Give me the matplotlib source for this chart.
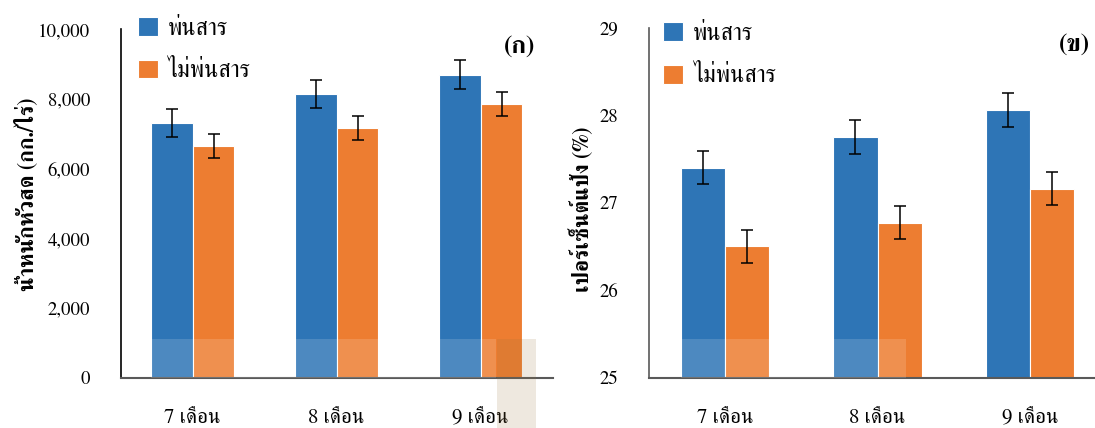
import matplotlib
matplotlib.use("Agg")
import numpy as np
import matplotlib.pyplot as plt
from matplotlib.patches import Rectangle

plt.rcParams['font.family'] = ['FreeSerif', 'DejaVu Serif']

# data
months = ["7 เดือน", "8 เดือน", "9 เดือน"]
series = ["พ่นสาร", "ไม่พ่นสาร"]

weight_spray = [7310, 8150, 8700]
weight_nospray = [6660, 7170, 7860]
weight_spray_err = [410, 410, 410]
weight_nospray_err = [350, 350, 350]

starch_spray = [27.40, 27.75, 28.06]
starch_nospray = [26.50, 26.77, 27.16]
starch_spray_err = [0.19, 0.19, 0.19]
starch_nospray_err = [0.19, 0.19, 0.19]

blue = "#2E75B6"
orange = "#ED7D31"
bw = 0.29

fig = plt.figure(figsize=(10.95, 4.28), dpi=100)
ax1 = fig.add_axes([0.1102, 0.1175, 0.3945, 0.8136])
ax2 = fig.add_axes([0.5927, 0.1175, 0.4174, 0.8178])


def draw_panel(ax, spray, nospray, spray_err, nospray_err, ylim, yticks, fmt,
               ylabel, label_xy, tag, tag_x, leg_xy, left_color):
    x = np.arange(len(months))
    ekw = dict(ecolor="black", elinewidth=1.1, capsize=4.5, capthick=1.1)
    ax.bar(x - bw / 2, spray, bw, yerr=spray_err, color=blue, edgecolor="white",
           linewidth=0.8, label=series[0], error_kw=ekw)
    ax.bar(x + bw / 2, nospray, bw, yerr=nospray_err, color=orange, edgecolor="white",
           linewidth=0.8, label=series[1], error_kw=ekw)
    ax.set_xlim(-0.5, 2.5)
    ax.set_ylim(*ylim)
    ax.set_yticks(yticks)
    ax.set_yticklabels([fmt(v) for v in yticks])
    ax.set_xticks(x)
    ax.set_xticklabels(months, fontsize=15)
    ax.tick_params(length=0, colors="black")
    ax.tick_params(axis="y", pad=22, labelsize=13.5)
    ax.tick_params(axis="x", pad=22)
    for s in ["top", "right"]:
        ax.spines[s].set_visible(False)
    ax.spines["left"].set_color(left_color)
    ax.spines["left"].set_linewidth(1.2)
    ax.spines["bottom"].set_color("#595959")
    ax.spines["bottom"].set_linewidth(1.5)
    ax.set_ylabel(ylabel, fontsize=15.5, fontweight="bold", va="center")
    ax.yaxis.set_label_coords(*label_xy)
    ax.legend(loc="upper left", bbox_to_anchor=leg_xy, frameon=False,
              fontsize=17, handlelength=0.85, handleheight=0.85,
              handletextpad=0.4, labelspacing=0.85, borderpad=0, borderaxespad=0)
    ax.text(tag_x, 0.95, tag, transform=ax.transAxes, ha="right", va="center",
            fontsize=18, fontweight="bold")


draw_panel(ax1, weight_spray, weight_nospray, weight_spray_err, weight_nospray_err,
           (0, 10000), [0, 2000, 4000, 6000, 8000, 10000], lambda v: f"{v:,}",
           "น้ำหนักหัวสด (กก./ไร่)", (-0.219, 0.528), "(ก)", 0.959, (0.040, 1.036),
           "black")
draw_panel(ax2, starch_spray, starch_nospray, starch_spray_err, starch_nospray_err,
           (25, 29), [25, 26, 27, 28, 29], lambda v: f"{v}",
           "เปอร์เซ็นต์แป้ง (%)", (-0.147, 0.48), "(ข)", 0.965, (0.031, 1.016),
           "#595959")

# pale band across the lower part of the bars
ax1.add_patch(Rectangle((-0.29, 0), 2.4, 1110, facecolor="white", alpha=0.15,
                        edgecolor="none", zorder=3))
ax2.add_patch(Rectangle((-0.29, 25), 1.475, 0.44, facecolor="white", alpha=0.15,
                        edgecolor="none", zorder=3))
# beige strip near the last group
fig.patches.append(Rectangle((497 / 1095, 0), 39 / 1095, 89 / 428,
                             transform=fig.transFigure, facecolor="#99733a",
                             alpha=0.16, edgecolor="none", zorder=5))

fig.savefig("out.png", dpi=100)
